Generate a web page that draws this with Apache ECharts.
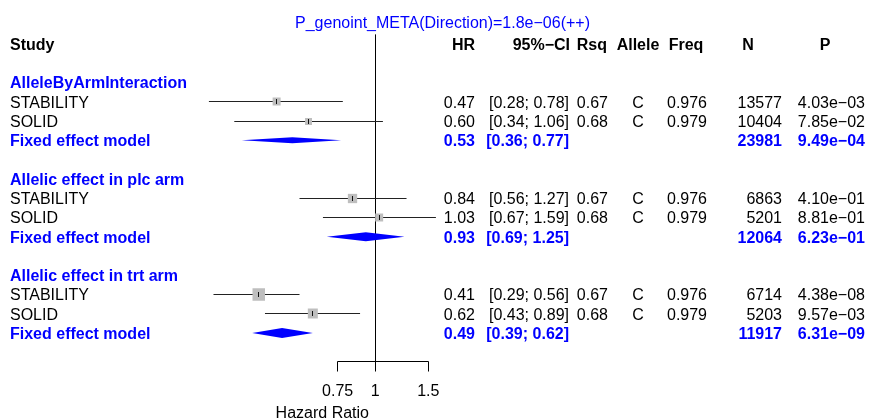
<!DOCTYPE html>
<html><head><meta charset="utf-8">
<script src="https://cdn.jsdelivr.net/npm/echarts@6/dist/echarts.min.js"></script>
<style>html,body{margin:0;padding:0;background:#fff}#c{width:869px;height:420px}</style>
</head><body><div id="c"></div>
<script>
// ---------- data ----------
const titleText = 'P_genoint_META(Direction)=1.8e\u221206(++)';
const headerLabels = ['Study', 'HR', '95%\u2212CI', 'Rsq', 'Allele', 'Freq', 'N', 'P'];
const groupNames = ['AlleleByArmInteraction', 'Allelic effect in plc arm', 'Allelic effect in trt arm'];
const studyNames = ['STABILITY', 'SOLID', 'STABILITY', 'SOLID', 'STABILITY', 'SOLID'];
const studyHR   = [0.47, 0.60, 0.84, 1.03, 0.41, 0.62];
const studyLow  = [0.28, 0.34, 0.56, 0.67, 0.29, 0.43];
const studyHigh = [0.78, 1.06, 1.27, 1.59, 0.56, 0.89];
const studyRsq  = ['0.67', '0.68', '0.67', '0.68', '0.67', '0.68'];
const studyAllele = ['C', 'C', 'C', 'C', 'C', 'C'];
const studyFreq = ['0.976', '0.979', '0.976', '0.979', '0.976', '0.979'];
const studyN    = [13577, 10404, 6863, 5201, 6714, 5203];
const studyP    = ['4.03e\u221203', '7.85e\u221202', '4.10e\u221201', '8.81e\u221201', '4.38e\u221208', '9.57e\u221203'];
const pooledLabel = 'Fixed effect model';
const pooledHR   = [0.53, 0.93, 0.49];
const pooledLow  = [0.36, 0.69, 0.39];
const pooledHigh = [0.77, 1.25, 0.62];
const pooledN    = [23981, 12064, 11917];
const pooledP    = ['9.49e\u221204', '6.23e\u221201', '6.31e\u221209'];
const xTicks = [0.75, 1, 1.5];
const xTickLabels = ['0.75', '1', '1.5'];
const xAxisTitle = 'Hazard Ratio';

// ---------- style / layout ----------
const FONT = '"Liberation Sans", Arial, Helvetica, sans-serif';
const FS = 16;
const BLUE = '#0000ff';
const BLACK = '#000000';
const TEXT_DY = 1.5;
const squareSizes = [8, 7, 9.3, 8, 12.5, 10];
const diamondHeights = [6, 9, 10];
const studyRows = studyNames.map((_, i) => 3 + Math.floor(i / 2) * 5 + (i % 2));
const groupRows = groupNames.map((_, g) => 2 + 5 * g);
const pooledRows = groupNames.map((_, g) => 5 + 5 * g);
const headerPos = [[10, 'left'], [475, 'right'], [570, 'right'], [607, 'right'], [638, 'center'], [686, 'center'], [748, 'center'], [825, 'center']];
const col = { label: [10, 'left'], hr: [475, 'right'], ci: [569, 'right'], rsq: [608, 'right'], allele: [638, 'center'], freq: [687, 'center'], n: [782, 'right'], p: [865, 'right'] };

const fmtCI = (l, h) => '[' + l.toFixed(2) + '; ' + h.toFixed(2) + ']';

// build text items
const texts = [];
function addText(row, str, pos, bold, color) { texts.push({ row, str, x: pos[0], align: pos[1], bold, color }); }
headerLabels.forEach((h, i) => addText(0, h, headerPos[i], true, BLACK));
groupNames.forEach((g, gi) => {
  addText(groupRows[gi], g, col.label, true, BLUE);
  addText(pooledRows[gi], pooledLabel, col.label, true, BLUE);
  addText(pooledRows[gi], pooledHR[gi].toFixed(2), col.hr, true, BLUE);
  addText(pooledRows[gi], fmtCI(pooledLow[gi], pooledHigh[gi]), col.ci, true, BLUE);
  addText(pooledRows[gi], String(pooledN[gi]), col.n, true, BLUE);
  addText(pooledRows[gi], pooledP[gi], col.p, true, BLUE);
});
studyNames.forEach((s, i) => {
  const r = studyRows[i];
  addText(r, s, col.label, false, BLACK);
  addText(r, studyHR[i].toFixed(2), col.hr, false, BLACK);
  addText(r, fmtCI(studyLow[i], studyHigh[i]), col.ci, false, BLACK);
  addText(r, studyRsq[i], col.rsq, false, BLACK);
  addText(r, studyAllele[i], col.allele, false, BLACK);
  addText(r, studyFreq[i], col.freq, false, BLACK);
  addText(r, String(studyN[i]), col.n, false, BLACK);
  addText(r, studyP[i], col.p, false, BLACK);
});

const AXIS_ROW = 16.5;
const chart = echarts.init(document.getElementById('c'), null, { renderer: 'canvas' });
const crisp = v => Math.round(v - 0.5) + 0.5;

chart.setOption({
  animation: false,
  backgroundColor: '#ffffff',
  title: {
    text: titleText, left: 437.5, top: 11, textAlign: 'center',
    textStyle: { color: BLUE, fontSize: FS, fontWeight: 'normal', fontFamily: FONT }
  },
  grid: { left: 194.1, right: 424.35, top: 24.73, bottom: 29.14, containLabel: false },
  xAxis: { type: 'log', logBase: 10, min: 0.25, max: 1.7, show: false },
  yAxis: { type: 'value', inverse: true, min: -1, max: 18, show: false },
  series: [
    { // reference line at HR = 1
      type: 'custom', clip: false, silent: true,
      data: [[1, -0.5, AXIS_ROW]],
      renderItem: (p, api) => {
        const a = api.coord([api.value(0), api.value(1)]);
        const b = api.coord([api.value(0), api.value(2)]);
        const x = crisp(a[0]);
        return { type: 'line', shape: { x1: x, y1: a[1], x2: x, y2: b[1] }, style: { stroke: BLACK, lineWidth: 1 } };
      }
    },
    { // x axis bracket
      type: 'custom', clip: false, silent: true,
      data: xTicks.map((t, i) => [t, AXIS_ROW, i]),
      renderItem: (p, api) => {
        const i = api.value(2);
        const c = api.coord([api.value(0), api.value(1)]);
        const x = crisp(c[0]); const y = crisp(c[1]);
        const children = [
          { type: 'line', shape: { x1: x, y1: y, x2: x, y2: y + 10 }, style: { stroke: BLACK, lineWidth: 1 } },
          { type: 'text', x: c[0], y: y + 30, style: { text: xTickLabels[i], fill: BLACK, fontSize: FS, fontFamily: FONT, align: 'center', verticalAlign: 'middle' } }
        ];
        if (i === 0) {
          const e = api.coord([xTicks[xTicks.length - 1], AXIS_ROW]);
          children.push({ type: 'line', shape: { x1: x, y1: y, x2: crisp(e[0]), y2: y }, style: { stroke: BLACK, lineWidth: 1 } });
          const one = api.coord([1, AXIS_ROW]);
          children.push({ type: 'text', x: one[0] - 53, y: y + 52, style: { text: xAxisTitle, fill: BLACK, fontSize: FS, fontFamily: FONT, align: 'center', verticalAlign: 'middle' } });
        }
        return { type: 'group', children };
      }
    },
    { // individual studies
      type: 'custom', clip: false, silent: true,
      data: studyHR.map((v, i) => [v, studyRows[i], studyLow[i], studyHigh[i], i]),
      renderItem: (p, api) => {
        const row = api.value(1); const i = api.value(4);
        const c = api.coord([api.value(0), row]);
        const l = api.coord([api.value(2), row]);
        const h = api.coord([api.value(3), row]);
        const y = crisp(c[1]);
        const s = squareSizes[i];
        return { type: 'group', children: [
          { type: 'line', shape: { x1: l[0], y1: y, x2: h[0], y2: y }, style: { stroke: '#222', lineWidth: 1 } },
          { type: 'rect', shape: { x: c[0] - s / 2, y: y - s / 2, width: s, height: s }, style: { fill: '#bebebe' } },
          { type: 'line', shape: { x1: crisp(c[0]), y1: y - 2.5, x2: crisp(c[0]), y2: y + 2.5 }, style: { stroke: '#111', lineWidth: 1 } }
        ] };
      }
    },
    { // pooled diamonds
      type: 'custom', clip: false, silent: true,
      data: pooledHR.map((v, i) => [v, pooledRows[i], pooledLow[i], pooledHigh[i], i]),
      renderItem: (p, api) => {
        const row = api.value(1); const i = api.value(4);
        const c = api.coord([api.value(0), row]);
        const l = api.coord([api.value(2), row]);
        const h = api.coord([api.value(3), row]);
        const d = diamondHeights[i] / 2;
        return { type: 'polygon', shape: { points: [[l[0], c[1]], [c[0], c[1] - d], [h[0], c[1]], [c[0], c[1] + d]] }, style: { fill: BLUE } };
      }
    },
    { // table texts
      type: 'custom', clip: false, silent: true,
      data: texts.map((t, i) => [1, t.row, i]),
      renderItem: (p, api) => {
        const t = texts[api.value(2)];
        const c = api.coord([1, api.value(1)]);
        return { type: 'text', x: t.x, y: c[1] + TEXT_DY, style: { text: t.str, fill: t.color, fontSize: FS, fontWeight: t.bold ? 'bold' : 'normal', fontFamily: FONT, align: t.align, verticalAlign: 'middle' } };
      }
    }
  ]
});
</script>
</body></html>
